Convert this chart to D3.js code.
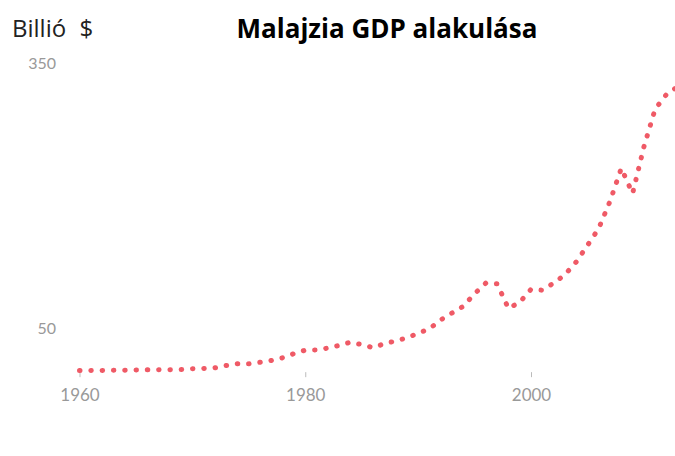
<!DOCTYPE html>
<html>
<head>
<meta charset="utf-8">
<script src="https://cdn.jsdelivr.net/npm/d3@7"></script>
<style>
  body { margin: 0; background: #fff; }
  svg { display: block; }
</style>
</head>
<body>
<script>
// Malajzia GDP, billió $
const years = d3.range(1960, 2014)
const gdp = [
  1.9, 1.9, 2.0, 2.2, 2.3, 2.5, 2.7, 2.7, 2.8, 3.0,
  3.9, 4.2, 4.9, 7.5, 9.5, 9.5, 11.2, 13.2, 16.3, 21.0,
  24.9, 25.0, 27.3, 30.3, 33.9, 31.2, 27.7, 32.2, 35.3, 38.8,
  44.0, 49.1, 59.2, 66.9, 74.5, 88.8, 100.9, 100.0, 72.2, 79.1,
  93.8, 92.8, 100.8, 110.2, 124.7, 143.5, 162.7, 193.5, 230.8, 202.3,
  255.0, 297.9, 314.4, 323.3
]
const xTicks = [1960, 1980, 2000]
const yTicks = [50, 350]

const width = 675, height = 456

const svg = d3.select('body').append('svg')
    .attr('width', width)
    .attr('height', height)

const x = d3.scaleLinear().domain([1960, 2000]).range([79.5, 531])
const y = d3.scaleLinear().domain([50, 350]).range([328, 63])

// title + unit
svg.append('text')
    .attr('x', 387).attr('y', 38)
    .attr('text-anchor', 'middle')
    .style('font-family', '"Open Sans", sans-serif')
    .style('font-weight', 'bold')
    .style('font-size', '26px')
    .attr('fill', '#000')
    .text('Malajzia GDP alakulása')

svg.append('text')
    .attr('x', 12).attr('y', 37)
    .style('font-family', '"Open Sans", sans-serif')
    .style('font-size', '24px')
    .style('word-spacing', '7px')
    .attr('fill', '#222')
    .text('Billió $')

// x axis
const xAxis = svg.append('g')
    .attr('transform', `translate(0,${y(0)})`)
    .call(d3.axisBottom(x).tickValues(xTicks).tickFormat(d3.format('d')).tickSize(5).tickPadding(12))
xAxis.select('.domain').remove()
xAxis.selectAll('line').attr('stroke', '#bbb')
xAxis.selectAll('text')
    .attr('fill', '#999')
    .style('font-family', 'Lato, sans-serif')
    .style('font-size', '17px')

// y axis
const yAxis = svg.append('g')
    .attr('transform', 'translate(56,0)')
    .call(d3.axisLeft(y).tickValues(yTicks).tickSize(0).tickPadding(0))
yAxis.select('.domain').remove()
yAxis.selectAll('text')
    .attr('fill', '#999')
    .style('font-family', 'Lato, sans-serif')
    .style('font-size', '16px')

// dotted line
const line = d3.line()
    .x((d, i) => x(years[i]))
    .y(d => y(d))

svg.append('path')
    .datum(gdp)
    .attr('d', line)
    .attr('fill', 'none')
    .attr('stroke', '#ef5a66')
    .attr('stroke-width', 5)
    .attr('stroke-linecap', 'round')
    .attr('stroke-dasharray', '0.5 10.8')
</script>
</body>
</html>
